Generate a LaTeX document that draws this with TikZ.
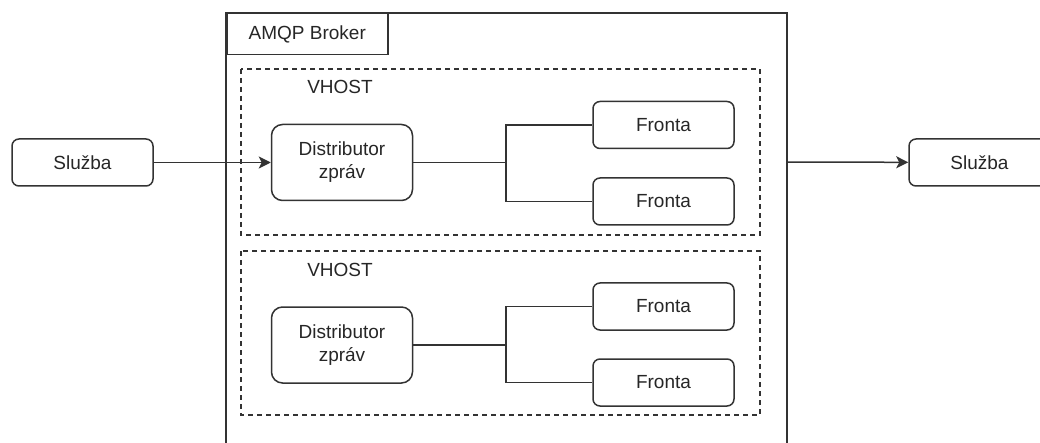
\documentclass[tikz,border=0pt]{standalone}
\usepackage{fontspec}
\setmainfont{Liberation Sans}
\usetikzlibrary{arrows.meta}
\begin{document}
\begin{tikzpicture}[x=1pt, y=-1pt,
        box/.style={draw=black!80, line width=1.5pt, rounded corners=7pt,
            minimum width=141pt, minimum height=47pt, inner sep=0pt,
            font=\fontsize{19}{23}\selectfont, text=black!85},
        distbox/.style={box, rounded corners=11pt, minimum height=76pt, align=center},
        label/.style={font=\fontsize{19}{23}\selectfont, text=black!85},
        link/.style={draw=black!80, line width=1.5pt},
        arrow/.style={link, -{Stealth[length=12pt, width=12pt, inset=3pt]}},
        vhostbox/.style={draw=black!80, line width=1.2pt, dash pattern=on 5pt off 4pt}]
    \useasboundingbox (0,0) rectangle (1040,443);
    \clip (0,0) rectangle (1040,443);

    % Broker frame (runs off the bottom)
    \draw[link] (226,450) -- (226,13) -- (787,13) -- (787,450);
    \node[draw=black!80, line width=1.5pt, anchor=north west, minimum width=161pt,
        minimum height=41pt, inner sep=0pt, label] (broker) at (226,13) {AMQP Broker};
    \coordinate (brokerR) at (787,162);

    % Services
    \node[box] (sluzbaL) at (82.5,162.5) {Služba};
    \node[box] (sluzbaR) at (979.5,162.5) {Služba};

    % First vhost
    \draw[vhostbox] (241,69) rectangle (760,235);
    \node[label] (vhost1) at (340,87) {VHOST};
    \node[distbox] (dist1) at (342,162.5) {Distributor\\zpráv};
    \node[box] (fronta11) at (663.5,125) {Fronta};
    \node[box] (fronta12) at (663.5,201.5) {Fronta};
    \coordinate (split1) at (506,162.5);
    \draw[link] (dist1) -- (split1);
    \draw[link] (split1) |- (fronta11);
    \draw[link] (split1) |- (fronta12);

    % Second vhost
    \draw[vhostbox] (241,251) rectangle (760,415);
    \node[label] (vhost2) at (340,270) {VHOST};
    \node[distbox] (dist2) at (342,345) {Distributor\\zpráv};
    \node[box] (fronta21) at (663.5,306.5) {Fronta};
    \node[box] (fronta22) at (663.5,382.5) {Fronta};
    \coordinate (split2) at (506,345);
    \draw[link] (dist2) -- (split2);
    \draw[link] (split2) |- (fronta21);
    \draw[link] (split2) |- (fronta22);

    % Message flow
    \draw[arrow] (sluzbaL) -- (dist1);
    \draw[arrow] (brokerR) -- (sluzbaR);
\end{tikzpicture}
\end{document}
